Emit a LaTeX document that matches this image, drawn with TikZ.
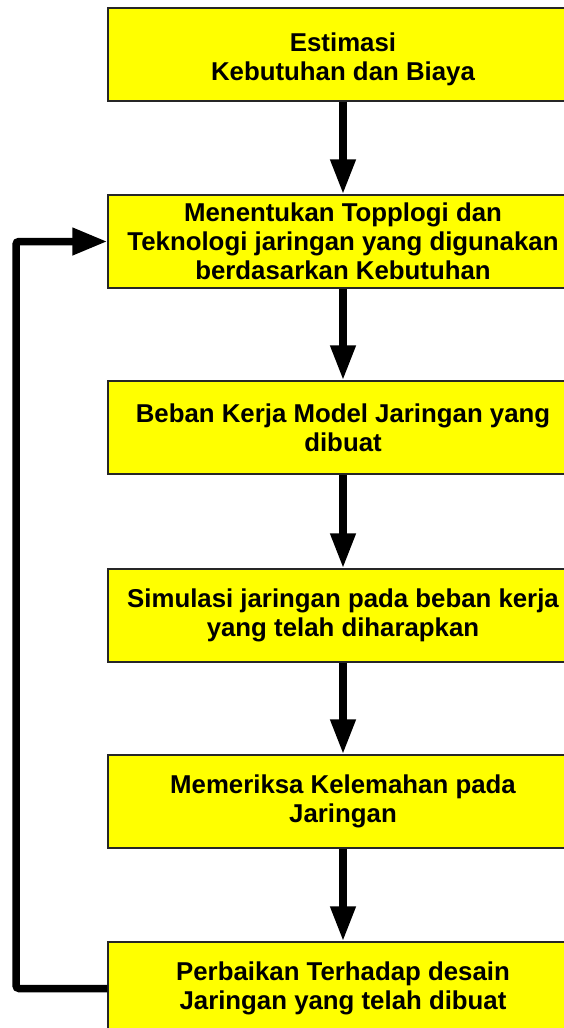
\documentclass[tikz,border=0pt]{standalone}
\usepackage{fontspec}
\setmainfont{Liberation Sans}
\usetikzlibrary{arrows.meta}
\definecolor{boxyellow}{RGB}{255,255,0}
\tikzset{
  stepbox/.style={draw=black!85, line width=1.5pt, fill=boxyellow, minimum width=470pt,
    minimum height=93pt, inner sep=0pt, align=center,
    font=\bfseries\fontsize{25.8}{29}\selectfont},
  flow/.style={line width=7.5pt, -{Triangle[length=35pt,width=24pt]}},
  loop/.style={line width=7.5pt, rounded corners=3pt, -{Triangle[length=35pt,width=26pt]}}
}
\begin{document}
\begin{tikzpicture}[x=1pt,y=-1pt]
\useasboundingbox (0,0) rectangle (564,1028);
\clip (0,0) rectangle (564,1028);
\node[stepbox] (b1) at (343,54.5) {\rule{0pt}{29pt}Estimasi\\Kebutuhan dan Biaya};
\node[stepbox] (b2) at (343,241.5) {Menentukan Topplogi dan\\Teknologi jaringan yang digunakan\\berdasarkan Kebutuhan};
\node[stepbox] (b3) at (343,427.5) {Beban Kerja Model Jaringan yang\\dibuat};
\node[stepbox] (b4) at (343,615.5) {Simulasi jaringan pada beban kerja\\yang telah diharapkan};
\node[stepbox] (b5) at (343,801.5) {Memeriksa Kelemahan pada\\Jaringan};
\node[stepbox] (b6) at (343,988.5) {Perbaikan Terhadap desain\\Jaringan yang telah dibuat};
\coordinate (lx) at (16,0);
\draw[flow] (b1.south) -- (b2.north);
\draw[flow] (b2.south) -- (b3.north);
\draw[flow] (b3.south) -- (b4.north);
\draw[flow] (b4.south) -- (b5.north);
\draw[flow] (b5.south) -- (b6.north);
\draw[loop] (b6.west) -- (b6.west -| lx) -- (b2.west -| lx) -- (b2.west);
\end{tikzpicture}
\end{document}
